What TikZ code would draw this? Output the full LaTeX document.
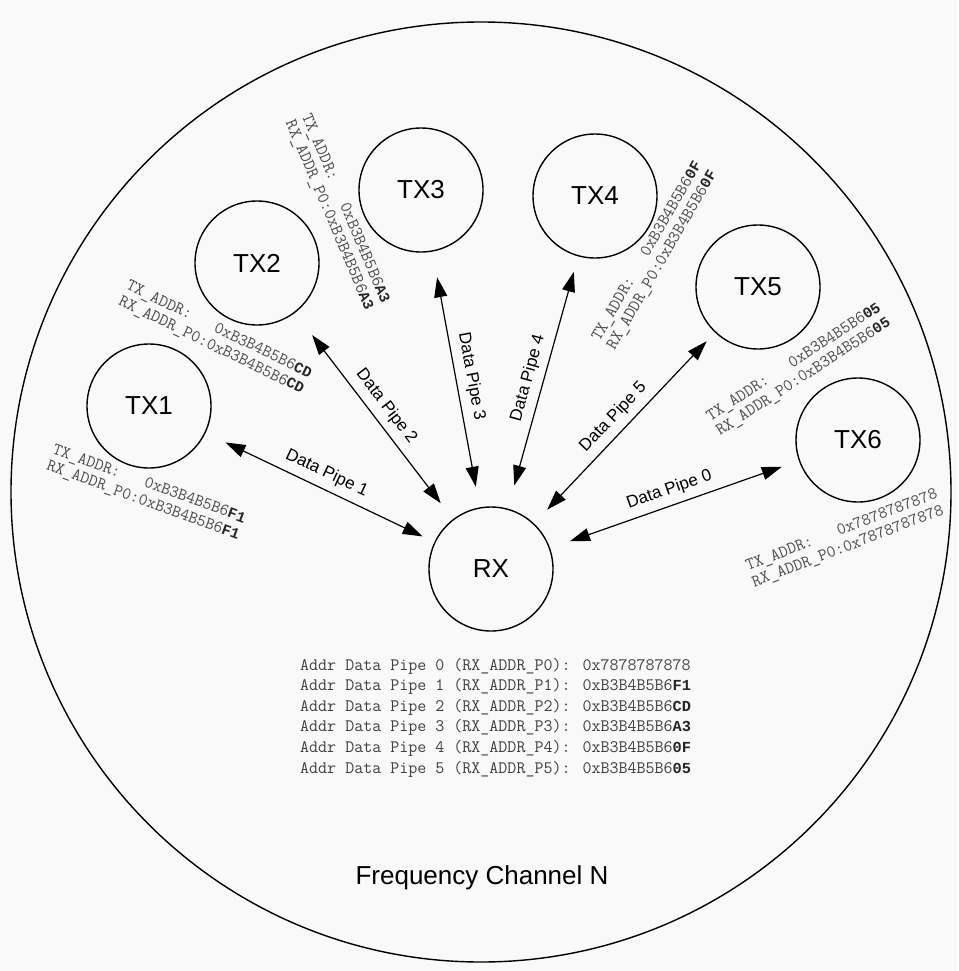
\documentclass[tikz,border=0pt]{standalone}
\usepackage{fontspec}
\setmainfont{Liberation Sans}
\newfontfamily\bmono{Liberation Mono}[Scale=0.875]
\newcommand\bb[1]{{\bmono\bfseries\color{black!85}#1}}
\usetikzlibrary{arrows.meta}
\newcommand\addrpair[1]{TX\_ADDR:~~~#1\\RX\_ADDR\_P0:#1}
\begin{document}
\begin{tikzpicture}[x=1pt,y=-1pt,
  unit/.style={circle,draw,line width=1.4pt,minimum size=124pt,inner sep=0pt,font=\fontsize{26}{30}\selectfont},
  pipe/.style={line width=1.2pt,{Triangle[length=20pt,width=13pt]}-{Triangle[length=20pt,width=13pt]}},
  pipelbl/.style={sloped,above,inner sep=7pt,font=\fontsize{17}{20}\selectfont},
  addr/.style={inner sep=0pt,align=left,text=black!70,font=\ttfamily\fontsize{17.2}{17.5}\selectfont},
  tabline/.style={anchor=base west,inner sep=0pt,text=black!75,font=\ttfamily\fontsize{17.5}{18}\selectfont}]
\useasboundingbox[fill=gray!5] (0,0) rectangle (958,971);
\draw[line width=1.4pt] (481,492) circle[radius=470pt];
\node[unit] (rx) at (491,569) {RX};
\node[unit] (tx1) at (149,406) {TX1};
\node[unit] (tx2) at (257,263) {TX2};
\node[unit] (tx3) at (421,190) {TX3};
\node[unit] (tx4) at (595,196) {TX4};
\node[unit] (tx5) at (758,287) {TX5};
\node[unit] (tx6) at (858,440) {TX6};
\draw[pipe,shorten <=22pt,shorten >=13pt] (tx1) -- node[pipelbl]{Data Pipe 1} (rx);
\draw[pipe,shorten <=28pt,shorten >=20pt] (tx2) -- node[pipelbl]{Data Pipe 2} (rx);
\draw[pipe,shorten <=26pt,shorten >=21pt] (tx3) -- node[pipelbl]{Data Pipe 3} (rx);
\draw[pipe,shorten <=16pt,shorten >=24pt] (tx4) -- node[pipelbl]{Data Pipe 4} (rx);
\draw[pipe,shorten <=12pt,shorten >=19pt] (tx5) -- node[pipelbl]{Data Pipe 5} (rx);
\draw[pipe,shorten <=18pt,shorten >=21pt] (tx6) -- node[pipelbl]{Data Pipe 0} (rx);
\node[addr,rotate=-20] (a1) at (146,493) {\addrpair{0xB3B4B5B6\bb{F1}}};
\node[addr,rotate=-26] (a2) at (215,338) {\addrpair{0xB3B4B5B6\bb{CD}}};
\node[addr,rotate=-67] (a3) at (337,212) {\addrpair{0xB3B4B5B6\bb{A3}}};
\node[addr,rotate=60] (a4) at (655,256) {\addrpair{0xB3B4B5B6\bb{0F}}};
\node[addr,rotate=33] (a5) at (799,370) {\addrpair{0xB3B4B5B6\bb{05}}};
\node[addr,rotate=21] (a6) at (845,539) {\addrpair{0x7878787878}};
\node[tabline] (t0) at (300,670) {Addr Data Pipe 0 (RX\_ADDR\_P0): 0x7878787878};
\node[tabline] (t1) at (300,690.6) {Addr Data Pipe 1 (RX\_ADDR\_P1): 0xB3B4B5B6\bb{F1}};
\node[tabline] (t2) at (300,711.2) {Addr Data Pipe 2 (RX\_ADDR\_P2): 0xB3B4B5B6\bb{CD}};
\node[tabline] (t3) at (300,731.8) {Addr Data Pipe 3 (RX\_ADDR\_P3): 0xB3B4B5B6\bb{A3}};
\node[tabline] (t4) at (300,752.4) {Addr Data Pipe 4 (RX\_ADDR\_P4): 0xB3B4B5B6\bb{0F}};
\node[tabline] (t5) at (300,773) {Addr Data Pipe 5 (RX\_ADDR\_P5): 0xB3B4B5B6\bb{05}};
\node[font=\fontsize{26}{30}\selectfont] (freq) at (482,878) {Frequency Channel N};
\end{tikzpicture}
\end{document}
